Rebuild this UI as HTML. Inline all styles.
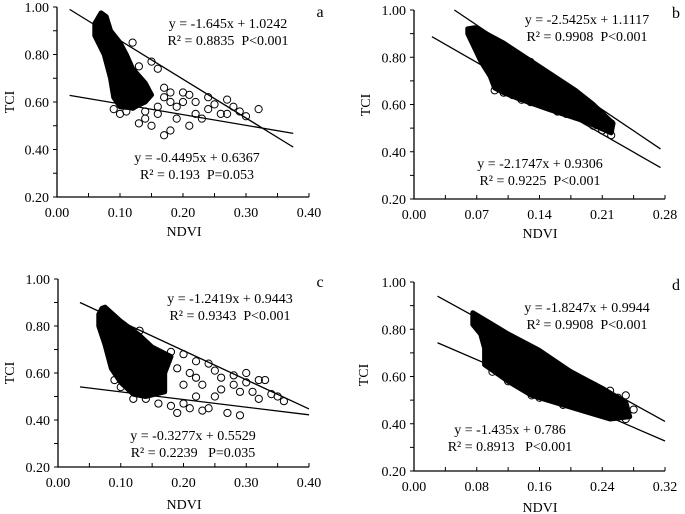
<!DOCTYPE html>
<html><head><meta charset="utf-8"><style>
body{margin:0;background:#fff}
svg{display:block;font-family:"Liberation Serif",serif}
</style></head><body>
<svg id="c" width="685" height="514" viewBox="0 0 685 514"></svg>
<script>
const panelIds=['a','b','c','d'];
const xTicksA=[0,0.1,0.2,0.3,0.4], xTicksB=[0,0.07,0.14,0.21,0.28], xTicksC=[0,0.1,0.2,0.3,0.4], xTicksD=[0,0.08,0.16,0.24,0.32];
const yTicks=[0.2,0.4,0.6,0.8,1.0];
const upperFitA=[[0.02,0.99],[0.375,0.41]], lowerFitA=[[0.02,0.628],[0.375,0.468]];
const upperFitB=[[0.045,1.0],[0.275,0.412]], lowerFitB=[[0.02,0.887],[0.275,0.333]];
const upperFitC=[[0.035,0.90],[0.40,0.447]], lowerFitC=[[0.035,0.541],[0.40,0.422]];
const upperFitD=[[0.03,0.94],[0.32,0.41]], lowerFitD=[[0.03,0.743],[0.32,0.327]];
const cloudA=[[0.07,0.975],[0.078,0.96],[0.085,0.90],[0.10,0.85],[0.11,0.80],[0.12,0.74],[0.14,0.68],[0.15,0.63],[0.14,0.60],[0.12,0.575],[0.10,0.58],[0.09,0.62],[0.085,0.70],[0.075,0.80],[0.06,0.88],[0.06,0.93]];
const cloudB=[[0.06,0.92],[0.068,0.925],[0.10,0.86],[0.14,0.76],[0.18,0.66],[0.20,0.60],[0.222,0.52],[0.22,0.48],[0.19,0.53],[0.15,0.58],[0.12,0.62],[0.10,0.65],[0.09,0.67],[0.085,0.72],[0.075,0.78],[0.065,0.86],[0.06,0.90]];
const cloudC=[[0.07,0.875],[0.075,0.88],[0.10,0.82],[0.13,0.76],[0.15,0.71],[0.18,0.67],[0.17,0.60],[0.17,0.52],[0.14,0.50],[0.12,0.51],[0.10,0.56],[0.085,0.62],[0.075,0.72],[0.065,0.80],[0.065,0.85]];
const cloudD=[[0.075,0.87],[0.10,0.82],[0.12,0.78],[0.16,0.71],[0.20,0.62],[0.24,0.55],[0.27,0.49],[0.275,0.43],[0.25,0.42],[0.22,0.45],[0.18,0.49],[0.15,0.52],[0.12,0.58],[0.09,0.65],[0.09,0.72],[0.085,0.78],[0.075,0.82]];
const ptsA=[[0.12,0.85],[0.15,0.77],[0.16,0.74],[0.13,0.75],[0.17,0.66],[0.18,0.64],[0.20,0.64],[0.21,0.63],[0.22,0.60],[0.24,0.62],[0.25,0.59],[0.27,0.61],[0.28,0.58],[0.29,0.56],[0.30,0.54],[0.32,0.57],[0.26,0.55],[0.23,0.53],[0.21,0.50],[0.19,0.53],[0.18,0.48],[0.17,0.46],[0.15,0.50],[0.13,0.51],[0.16,0.55],[0.19,0.58],[0.22,0.55],[0.24,0.57],[0.14,0.56],[0.20,0.60],[0.27,0.55],[0.11,0.56],[0.18,0.60],[0.09,0.57],[0.10,0.55],[0.12,0.58],[0.14,0.53],[0.16,0.58],[0.17,0.62]];
const ptsB=[[0.12,0.79],[0.13,0.78],[0.14,0.75],[0.16,0.70],[0.19,0.62],[0.20,0.59],[0.21,0.55],[0.22,0.52],[0.21,0.49],[0.18,0.55],[0.15,0.60],[0.12,0.62],[0.10,0.65],[0.09,0.66],[0.11,0.64],[0.13,0.61],[0.16,0.57],[0.17,0.56],[0.20,0.51],[0.22,0.47]];
const ptsC=[[0.13,0.78],[0.18,0.69],[0.20,0.68],[0.22,0.65],[0.24,0.64],[0.25,0.61],[0.26,0.58],[0.28,0.59],[0.30,0.60],[0.32,0.57],[0.33,0.57],[0.35,0.50],[0.36,0.48],[0.31,0.52],[0.29,0.52],[0.32,0.49],[0.28,0.55],[0.26,0.53],[0.25,0.50],[0.24,0.45],[0.23,0.44],[0.21,0.45],[0.20,0.47],[0.19,0.43],[0.22,0.50],[0.27,0.43],[0.29,0.42],[0.18,0.46],[0.16,0.47],[0.20,0.55],[0.22,0.58],[0.23,0.55],[0.30,0.56],[0.34,0.51],[0.12,0.49],[0.14,0.49],[0.09,0.57],[0.10,0.54],[0.19,0.62],[0.21,0.60]];
const ptsD=[[0.25,0.54],[0.26,0.51],[0.27,0.52],[0.28,0.46],[0.27,0.45],[0.26,0.47],[0.24,0.48],[0.22,0.50],[0.20,0.49],[0.18,0.50],[0.15,0.52],[0.12,0.58],[0.10,0.62],[0.23,0.56],[0.25,0.44],[0.16,0.51],[0.19,0.48],[0.21,0.47],[0.23,0.45],[0.27,0.42]];
const panels=[
 {id:'a',x0:57,x1:309,y0:197,y1:7,xmax:0.4,xt:xTicksA,up:upperFitA,lo:lowerFitA,cloud:cloudA,pts:ptsA,
  eq1:['y = -1.645x + 1.0242','R² = 0.8835  P<0.001'],e1:[228,28],eq2:['y = -0.4495x + 0.6367','R² = 0.193  P=0.053'],e2:[197,162],lab:[320,17],xl:[184,236],yl:[14,102]},
 {id:'b',x0:414,x1:665,y0:199,y1:10,xmax:0.28,xt:xTicksB,up:upperFitB,lo:lowerFitB,cloud:cloudB,pts:ptsB,
  eq1:['y = -2.5425x + 1.1117','R² = 0.9908  P<0.001'],e1:[587,24],eq2:['y = -2.1747x + 0.9306','R² = 0.9225  P<0.001'],e2:[540,168],lab:[676,18],xl:[540,238],yl:[370,105]},
 {id:'c',x0:58,x1:309,y0:467,y1:279,xmax:0.4,xt:xTicksC,up:upperFitC,lo:lowerFitC,cloud:cloudC,pts:ptsC,
  eq1:['y = -1.2419x + 0.9443','R² = 0.9343  P<0.001'],e1:[230,303],eq2:['y = -0.3277x + 0.5529','R² = 0.2239   P=0.035'],e2:[193,440],lab:[320,287],xl:[184,509],yl:[14,373]},
 {id:'d',x0:414,x1:665,y0:471,y1:282,xmax:0.32,xt:xTicksD,up:upperFitD,lo:lowerFitD,cloud:cloudD,pts:ptsD,
  eq1:['y = -1.8247x + 0.9944','R² = 0.9908  P<0.001'],e1:[587,312],eq2:['y = -1.435x + 0.786','R² = 0.8913   P<0.001'],e2:[510,434],lab:[676,290],xl:[540,512],yl:[368,375]}
];
const svg=document.getElementById('c');
const NS='http://www.w3.org/2000/svg';
function mk(tag,attrs,parent){const e=document.createElementNS(NS,tag);for(const k in attrs)e.setAttribute(k,attrs[k]);(parent||svg).appendChild(e);return e;}
panels.forEach(p=>{
 const g=mk('g',{});
 
 
 const sx=v=>p.x0+(v/p.xmax)*(p.x1-p.x0);
 const sy=v=>p.y0-(v-0.2)/0.8*(p.y0-p.y1);
 const poly=mk('polygon',{points:p.cloud.map(d=>sx(d[0])+','+sy(d[1])).join(' '),fill:'#000',stroke:'#000','stroke-width':5,'stroke-linejoin':'round'},g);
 
 
 p.pts.forEach(d=>{
  const c=mk('circle',{cx:sx(d[0]),cy:sy(d[1]),r:3.6,fill:'none',stroke:'#000','stroke-width':1},g);
  
  
 });
 [p.up,p.lo].forEach((l,i)=>{
  const ln=mk('line',{x1:sx(l[0][0]),y1:sy(l[0][1]),x2:sx(l[1][0]),y2:sy(l[1][1]),stroke:'#000','stroke-width':1.3},g);
  
  
 });
 const ax=mk('path',{d:`M${p.x0},${p.y1}V${p.y0}H${p.x1}`,fill:'none',stroke:'#000','stroke-width':1.3},g);
 
 
 for(let v=0.2;v<=1.001;v+=0.1){const y=sy(v);mk('line',{x1:p.x0-4,y1:y,x2:p.x0,y2:y,stroke:'#000'},g);}
 yTicks.forEach(v=>{const t=mk('text',{x:p.x0-8,y:sy(v)+5,'text-anchor':'end','font-size':14},g);t.textContent=v.toFixed(2);
  });
 const step=p.xt[1]/2;
 for(let i=1;i<=8;i++){const x=sx(step*i);mk('line',{x1:x,y1:p.y0,x2:x,y2:p.y0-4,stroke:'#000'},g);}
 p.xt.forEach(v=>{const t=mk('text',{x:sx(v),y:p.y0+20,'text-anchor':'middle','font-size':14},g);t.textContent=v.toFixed(2);
  });
 const xl=mk('text',{x:p.xl[0],y:p.xl[1],'text-anchor':'middle','font-size':14},g);xl.textContent='NDVI';
 
 const yl=mk('text',{x:p.yl[0],y:p.yl[1],'text-anchor':'middle','font-size':14,transform:`rotate(-90 ${p.yl[0]} ${p.yl[1]})`},g);yl.textContent='TCI';
 
 const lb=mk('text',{x:p.lab[0],y:p.lab[1],'text-anchor':'middle','font-size':16},g);lb.textContent=p.id;
 
 [[p.eq1,p.e1,'upper-equation'],[p.eq2,p.e2,'lower-equation']].forEach(([lines,pos,nm])=>{
  lines.forEach((s,i)=>{const t=mk('text',{x:pos[0],y:pos[1]+i*17,'text-anchor':'middle','font-size':14},g);
   t.style.whiteSpace='pre';t.textContent=s;
   });
 });
});
</script>
</body></html>
